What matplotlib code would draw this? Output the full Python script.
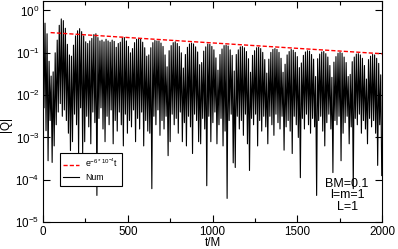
import numpy as np
import matplotlib
matplotlib.use('Agg')
import matplotlib.pyplot as plt
from matplotlib.ticker import MultipleLocator, LogLocator, NullLocator

plt.rcParams['font.family'] = 'Liberation Sans'
plt.rcParams['mathtext.fontset'] = 'custom'
plt.rcParams['mathtext.rm'] = 'Liberation Sans'
plt.rcParams['mathtext.it'] = 'Liberation Sans:italic'

# |Q|, in log10 units
# local maxima, one every 12 t/M starting at t=0
peak_log = [
    -0.12, -0.30, -0.55, -1.20, -1.55, -1.45, -1.00, -0.70, -0.35, -0.20,
    -0.24, -0.42, -0.80, -1.05, -1.08, -0.82, -0.60, -0.48, -0.43, -0.50,
    -0.60, -0.74, -0.78, -0.72, -0.66, -0.57, -0.55, -0.64, -0.72, -0.70,
    -0.74, -0.68, -0.72, -0.75, -0.70, -0.73, -0.87, -0.78, -0.75, -0.65,
    -0.64, -0.72, -0.85, -1.00, -0.90, -0.76, -0.68, -0.66, -0.67, -0.75,
    -0.88, -1.08, -1.05, -0.88, -0.76, -0.71,
    -0.72, -0.72, -0.77, -0.85, -1.05, -1.33, -0.95, -0.83, -0.76, -0.74,
    -0.78, -0.85, -1.00, -1.36, -1.04, -0.87, -0.79, -0.77, -0.79, -0.86,
    -0.98, -1.28, -1.23, -0.96, -0.86, -0.79, -0.80, -0.85, -0.93, -1.12,
    -1.41, -1.04, -0.91, -0.83, -0.82, -0.84, -0.93, -1.06, -1.43, -1.04,
    -0.93, -0.86, -0.85, -0.88, -0.97, -1.14, -1.46, -1.06, -0.95, -0.88,
    -0.87, -0.90, -0.99, -1.16, -1.48, -1.15, -0.99, -0.92, -0.90, -0.92,
    -0.99, -1.13, -1.46, -1.27, -1.05, -0.97, -0.92, -0.94, -0.99, -1.09,
    -1.35, -1.24, -1.06, -0.98, -0.95, -0.96, -1.04, -1.15, -1.56, -1.14,
    -1.03, -0.98, -0.97, -1.02, -1.10, -1.30, -1.58, -1.22, -1.09, -1.01,
    -0.99, -1.01, -1.10, -1.23, -1.56, -1.51, -1.21, -1.10, -1.03, -1.02,
    -1.05, -1.13, -1.30, -1.62, -1.16, -1.08, -1.04, -1.05, -1.13, -1.25,
    -1.52,
]
# local minima, one every 12 t/M starting at t=6
dip_log = [
    -2.30, -2.84, -3.55, -2.60, -3.59, -3.20, -2.70, -2.40, -2.20, -2.50,
    -2.35, -2.60, -2.90, -3.31, -3.10, -2.45, -2.70, -3.40, -2.30, -3.38,
    -3.10, -2.50, -2.75, -3.15, -2.40, -2.65, -4.37, -2.55, -2.30, -2.80,
    -3.10, -2.50, -2.70, -2.35, -3.15, -2.60, -2.85, -2.40, -2.70, -3.20,
    -2.45, -2.90, -2.60, -2.75, -2.35, -3.10, -2.55, -2.80, -2.40, -3.20,
    -2.60, -2.85, -2.90, -4.21, -2.50, -2.70, -2.35, -2.95, -2.60, -2.80,
    -2.50, -3.43, -3.10, -2.45, -2.70, -2.55, -2.90, -2.40, -3.10, -2.65,
    -3.20, -2.50, -2.75, -3.38, -2.45, -2.60, -3.10, -3.15, -2.55, -2.80,
    -4.14, -2.50, -3.10, -2.65, -2.40, -3.15, -2.70, -2.55, -3.20, -2.85,
    -4.44, -2.60, -2.45, -3.60, -3.71, -2.50, -2.80, -2.60, -2.95, -2.45,
    -3.15, -3.78, -2.55, -2.70, -2.45, -3.20, -2.60, -2.85, -2.50, -2.75,
    -3.15, -2.50, -2.70, -2.95, -2.45, -2.65, -2.80, -2.50, -3.30, -2.75,
    -2.60, -2.85, -3.38, -2.50, -2.70, -3.00, -3.95, -2.55, -2.80, -2.45,
    -2.70, -2.90, -2.55, -2.75, -4.37, -2.60, -2.50, -2.85, -3.20, -2.65,
    -2.45, -2.80, -3.83, -2.60, -2.70, -2.50, -3.55, -2.90, -2.65, -2.50,
    -3.15, -2.75, -4.21, -2.55, -2.70, -2.45, -2.90, -2.60, -2.80, -3.15,
    -2.55, -2.75, -2.60, -2.90, -3.66, -2.70, -3.90,
]
step = 12.0

# fitted decay e^{-6e-4 t}, end points
fit_t = [45, 2000]
fit_q = [0.30, 0.095]

t_peak = step * np.arange(len(peak_log))
t_dip = t_peak + step / 2
t = np.column_stack([t_peak, t_dip]).ravel()
q = 10.0 ** np.column_stack([peak_log, dip_log]).ravel()

fig = plt.figure(figsize=(3.98, 2.49), dpi=100)
ax = fig.add_axes([0.108, 0.108, 0.852, 0.886])

ax.plot(t, q, color='k', lw=0.8, label='Num', zorder=2)
ax.plot(fit_t, fit_q, color='red', lw=1.0, ls=(0, (3, 1.5)),
        label=r'$\mathregular{e^{-6*10^{-4}}t}$', zorder=3)

ax.set_yscale('log')
ax.set_xlim(0, 2000)
ax.set_ylim(1e-5, 1.63)
ax.xaxis.set_major_locator(MultipleLocator(500))
ax.xaxis.set_minor_locator(MultipleLocator(250))
ax.yaxis.set_major_locator(LogLocator(base=10, numticks=10))
ax.yaxis.set_minor_locator(NullLocator())
ax.tick_params(which='both', direction='in', top=True, right=True, width=0.8)
ax.tick_params(which='major', length=5, labelsize=8.4, pad=2.5)
ax.tick_params(which='minor', length=3)
for s in ax.spines.values():
    s.set_linewidth(0.8)

fig.text(0.535, 0.024, 't/M', ha='center', va='center', fontsize=8.4)
fig.text(0.016, 0.50, '|Q|', ha='center', va='center', rotation=90, fontsize=8.4)

ax.text(0.897, 0.122, 'BM=0.1\nl=m=1\nL=1', transform=ax.transAxes,
        ha='center', va='center', fontsize=9, linespacing=0.95)

h, l = ax.get_legend_handles_labels()
leg = ax.legend(h[::-1], l[::-1], loc='upper left', bbox_to_anchor=(0.05, 0.312),
                borderaxespad=0, fontsize=6.3, handlelength=1.8, handletextpad=0.7,
                borderpad=0.4, labelspacing=0.4, fancybox=False, framealpha=1,
                edgecolor='k')
leg.get_frame().set_linewidth(0.8)

fig.savefig('out.png', dpi=100)
